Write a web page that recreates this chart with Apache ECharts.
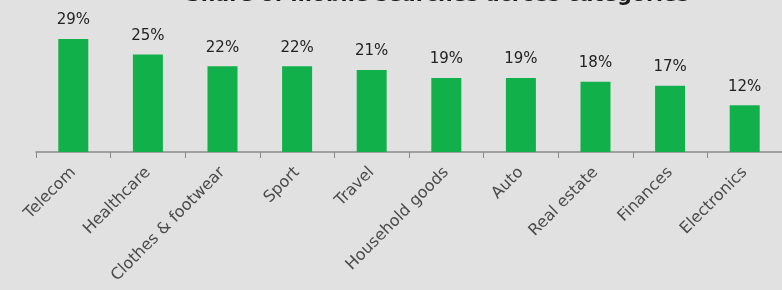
<!DOCTYPE html>
<html>
<head>
<meta charset="utf-8">
<script src="https://cdn.jsdelivr.net/npm/echarts@6/dist/echarts.min.js"></script>
<style>
html,body{margin:0;padding:0;background:#e1e1e1;}
#c{width:782px;height:290px;}
</style>
</head>
<body>
<div id="c"></div>
<script>
const titleText = "Share of mobile searches across categories";
const categories = ["Telecom","Healthcare","Clothes & footwear","Sport","Travel","Household goods","Auto","Real estate","Finances","Electronics"];
const shareValues = [29,25,22,22,21,19,19,18,17,12];

const chart = echarts.init(document.getElementById('c'), null, {renderer:'canvas'});
chart.setOption({
  backgroundColor:'#e1e1e1',
  animation:false,
  graphic:[{
    type:'text',
    left:186,
    top:-15,
    style:{
      text:titleText,
      font:'bold 20.5px "DejaVu Sans"',
      fill:'#1a1a1a'
    }
  }],
  grid:{left:36,right:-2,top:35,bottom:138,containLabel:false},
  xAxis:{
    type:'category',
    data:categories,
    boundaryGap:true,
    axisLine:{lineStyle:{color:'#8a8a8a',width:1.5}},
    axisTick:{show:true,length:6,lineStyle:{color:'#8a8a8a'}},
    axisLabel:{rotate:45,margin:18,color:'#4a4a4a',fontSize:16,fontFamily:'"DejaVu Sans"',interval:0}
  },
  yAxis:{type:'value',min:0,max:30,show:false,splitLine:{show:false}},
  series:[{
    type:'bar',
    data:shareValues,
    barWidth:30,
    itemStyle:{color:'#12b04b'},
    label:{show:true,position:'top',distance:11,formatter:'{c}%',color:'#222',fontSize:15,fontFamily:'"DejaVu Sans"'}
  }]
});
</script>
</body>
</html>
